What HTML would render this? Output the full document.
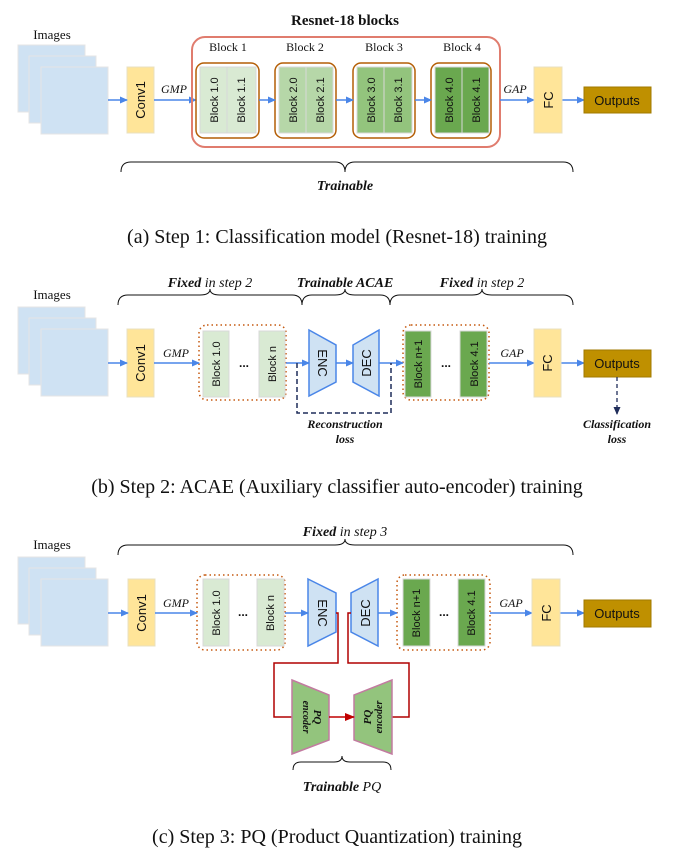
<!DOCTYPE html>
<html><head><meta charset="utf-8"><style>
html,body{margin:0;padding:0;background:#fff}
svg{display:block}
.s{font-family:"Liberation Sans",sans-serif;fill:#111}
.r{font-family:"Liberation Serif",serif;fill:#111}
</style></head><body>
<svg width="675" height="855" viewBox="0 0 675 855" xmlns="http://www.w3.org/2000/svg">
<defs>
<marker id="ab" markerWidth="8" markerHeight="8" refX="7" refY="4" orient="auto" markerUnits="userSpaceOnUse"><path d="M0,0.5 L8,4 L0,7.5z" fill="#4a86e8"/></marker>
<marker id="ar" markerWidth="10" markerHeight="10" refX="9" refY="5" orient="auto" markerUnits="userSpaceOnUse"><path d="M0,1 L10,5 L0,9z" fill="#c00000"/></marker>
<marker id="an" markerWidth="8" markerHeight="8" refX="7" refY="4" orient="auto" markerUnits="userSpaceOnUse"><path d="M0,0.5 L8,4 L0,7.5z" fill="#1f2d5a"/></marker>
</defs>

<!-- ===== Panel A ===== -->
<text x="52" y="39" class="r" font-size="13" text-anchor="middle">Images</text>
<g fill="#cfe2f3" stroke="#e4e4e4" stroke-width="1">
<rect x="18" y="45" width="67" height="67"/><rect x="29" y="56" width="67" height="67"/><rect x="41" y="67" width="67" height="67"/>
</g>
<rect x="127" y="67" width="27" height="66" fill="#ffe599" stroke="#e8e0c0"/>
<text transform="translate(145,100) rotate(-90)" class="s" font-size="13" text-anchor="middle">Conv1</text>
<line x1="108" y1="100" x2="127" y2="100" stroke="#4a86e8" stroke-width="1.5" marker-end="url(#ab)"/>
<line x1="154" y1="100" x2="196" y2="100" stroke="#4a86e8" stroke-width="1.5" marker-end="url(#ab)"/>
<text x="174" y="93" class="r" font-size="12" font-style="italic" text-anchor="middle">GMP</text>
<text x="345" y="25" class="r" font-size="15" font-weight="bold" text-anchor="middle">Resnet-18 blocks</text>
<rect x="192" y="37" width="308" height="110" rx="13" fill="none" stroke="#e07c6e" stroke-width="2"/>
<g class="r" font-size="12" text-anchor="middle">
<text x="228" y="51">Block 1</text><text x="305" y="51">Block 2</text><text x="384" y="51">Block 3</text><text x="462" y="51">Block 4</text>
</g>
<g stroke="#b45f06" stroke-width="1.5" fill="none">
<rect x="196" y="63" width="63" height="75" rx="8"/><rect x="275" y="63" width="61" height="75" rx="8"/>
<rect x="353" y="63" width="62" height="75" rx="8"/><rect x="431" y="63" width="60" height="75" rx="8"/>
</g>
<g stroke="#d8d8d8">
<rect x="200" y="67" width="27" height="66" fill="#d9ead3"/><rect x="227" y="67" width="29" height="66" fill="#d9ead3"/>
<rect x="279" y="67" width="27" height="66" fill="#b6d7a8"/><rect x="306" y="67" width="27" height="66" fill="#b6d7a8"/>
<rect x="357" y="67" width="27" height="66" fill="#93c47d"/><rect x="384" y="67" width="28" height="66" fill="#93c47d"/>
<rect x="435" y="67" width="27" height="66" fill="#6aa84f"/><rect x="462" y="67" width="27" height="66" fill="#6aa84f"/>
</g>
<g class="s" font-size="11" text-anchor="middle">
<text transform="translate(218,100) rotate(-90)">Block 1.0</text><text transform="translate(245,100) rotate(-90)">Block 1.1</text>
<text transform="translate(297,100) rotate(-90)">Block 2.0</text><text transform="translate(324,100) rotate(-90)">Block 2.1</text>
<text transform="translate(375,100) rotate(-90)">Block 3.0</text><text transform="translate(402,100) rotate(-90)">Block 3.1</text>
<text transform="translate(453,100) rotate(-90)">Block 4.0</text><text transform="translate(480,100) rotate(-90)">Block 4.1</text>
</g>
<g stroke="#4a86e8" stroke-width="1.5" marker-end="url(#ab)">
<line x1="259" y1="100" x2="275" y2="100"/><line x1="336" y1="100" x2="353" y2="100"/><line x1="415" y1="100" x2="431" y2="100"/>
<line x1="500" y1="100" x2="534" y2="100"/><line x1="562" y1="100" x2="584" y2="100"/>
</g>
<text x="515" y="93" class="r" font-size="12" font-style="italic" text-anchor="middle">GAP</text>
<rect x="534" y="67" width="28" height="66" fill="#ffe599" stroke="#e8e0c0"/>
<text transform="translate(553,100) rotate(-90)" class="s" font-size="13" text-anchor="middle">FC</text>
<rect x="584" y="87" width="67" height="26" fill="#bf9000" stroke="#a07a00"/>
<text x="617" y="105" class="s" font-size="13" text-anchor="middle">Outputs</text>
<path d="M121,172 Q121,162 131,162 L335,162 Q345,162 345,172 Q345,162 355,162 L563,162 Q573,162 573,172" fill="none" stroke="#111" stroke-width="1"/>
<text x="345" y="190" class="r" font-size="14" font-weight="bold" font-style="italic" text-anchor="middle">Trainable</text>
<text x="337" y="243" class="r" font-size="20" text-anchor="middle">(a) Step 1: Classification model (Resnet-18) training</text>

<!-- ===== Panel B ===== -->
<text x="52" y="299" class="r" font-size="13" text-anchor="middle">Images</text>
<g fill="#cfe2f3" stroke="#e4e4e4">
<rect x="18" y="307" width="67" height="67"/><rect x="29" y="318" width="67" height="67"/><rect x="41" y="329" width="67" height="67"/>
</g>
<text x="210" y="287" class="r" font-size="14" text-anchor="middle" font-style="italic"><tspan font-weight="bold">Fixed</tspan> in step 2</text>
<text x="345" y="287" class="r" font-size="14" text-anchor="middle" font-style="italic" font-weight="bold">Trainable ACAE</text>
<text x="482" y="287" class="r" font-size="14" text-anchor="middle" font-style="italic"><tspan font-weight="bold">Fixed</tspan> in step 2</text>
<g fill="none" stroke="#111">
<path d="M118,305 Q118,295 128,295 L200,295 Q210,295 210,289 Q210,295 220,295 L292,295 Q302,295 302,305"/>
<path d="M302,305 Q302,295 312,295 L335,295 Q345,295 345,289 Q345,295 355,295 L380,295 Q390,295 390,305"/>
<path d="M390,305 Q390,295 400,295 L472,295 Q482,295 482,289 Q482,295 492,295 L563,295 Q573,295 573,305"/>
</g>
<rect x="127" y="329" width="27" height="68" fill="#ffe599" stroke="#e8e0c0"/>
<text transform="translate(145,363) rotate(-90)" class="s" font-size="13" text-anchor="middle">Conv1</text>
<rect x="199" y="325" width="87" height="75" rx="8" fill="none" stroke="#c55a11" stroke-width="1.5" stroke-dasharray="1.5,3"/>
<rect x="203" y="331" width="26" height="66" fill="#d9ead3" stroke="#d8d8d8"/>
<rect x="259" y="331" width="26" height="66" fill="#d9ead3" stroke="#d8d8d8"/>
<text x="244" y="367" class="s" font-size="12" text-anchor="middle" font-weight="bold">...</text>
<g class="s" font-size="11" text-anchor="middle">
<text transform="translate(220,364) rotate(-90)">Block 1.0</text><text transform="translate(276,364) rotate(-90)">Block n</text>
</g>
<path d="M309,330 L336,345 L336,382 L309,396z" fill="#cfe2f3" stroke="#4a86e8" stroke-width="1.5"/>
<path d="M379,330 L353,345 L353,382 L379,396z" fill="#cfe2f3" stroke="#4a86e8" stroke-width="1.5"/>
<text transform="translate(318,363) rotate(90)" class="s" font-size="13" text-anchor="middle">ENC</text>
<text transform="translate(371,363) rotate(-90)" class="s" font-size="13" text-anchor="middle">DEC</text>
<rect x="403" y="325" width="86" height="75" rx="8" fill="none" stroke="#c55a11" stroke-width="1.5" stroke-dasharray="1.5,3"/>
<rect x="405" y="331" width="26" height="66" fill="#6aa84f" stroke="#d8d8d8"/>
<rect x="460" y="331" width="27" height="66" fill="#6aa84f" stroke="#d8d8d8"/>
<text x="446" y="367" class="s" font-size="12" text-anchor="middle" font-weight="bold">...</text>
<g class="s" font-size="11" text-anchor="middle">
<text transform="translate(422,364) rotate(-90)">Block n+1</text><text transform="translate(478,364) rotate(-90)">Block 4.1</text>
</g>
<g stroke="#4a86e8" stroke-width="1.5" marker-end="url(#ab)">
<line x1="108" y1="363" x2="127" y2="363"/><line x1="154" y1="363" x2="199" y2="363"/>
<line x1="286" y1="363" x2="309" y2="363"/><line x1="336" y1="363" x2="353" y2="363"/>
<line x1="379" y1="363" x2="403" y2="363"/><line x1="489" y1="363" x2="534" y2="363"/>
<line x1="561" y1="363" x2="584" y2="363"/>
</g>
<text x="176" y="357" class="r" font-size="12" font-style="italic" text-anchor="middle">GMP</text>
<text x="512" y="357" class="r" font-size="12" font-style="italic" text-anchor="middle">GAP</text>
<rect x="534" y="329" width="27" height="68" fill="#ffe599" stroke="#e8e0c0"/>
<text transform="translate(552,363) rotate(-90)" class="s" font-size="13" text-anchor="middle">FC</text>
<rect x="584" y="350" width="67" height="27" fill="#bf9000" stroke="#a07a00"/>
<text x="617" y="368" class="s" font-size="13" text-anchor="middle">Outputs</text>
<path d="M297,363 L297,413 L391,413 L391,363" fill="none" stroke="#1f2d5a" stroke-width="1.5" stroke-dasharray="5,3"/>
<line x1="617" y1="377" x2="617" y2="414" stroke="#1f2d5a" stroke-width="1.3" stroke-dasharray="4,3" marker-end="url(#an)"/>
<g class="r" font-size="12" font-weight="bold" font-style="italic" text-anchor="middle">
<text x="345" y="428">Reconstruction</text><text x="345" y="443">loss</text>
<text x="617" y="428">Classification</text><text x="617" y="443">loss</text>
</g>
<text x="337" y="493" class="r" font-size="20" text-anchor="middle">(b) Step 2: ACAE (Auxiliary classifier auto-encoder) training</text>

<!-- ===== Panel C ===== -->
<text x="52" y="549" class="r" font-size="13" text-anchor="middle">Images</text>
<g fill="#cfe2f3" stroke="#e4e4e4">
<rect x="18" y="557" width="67" height="67"/><rect x="29" y="568" width="67" height="67"/><rect x="41" y="579" width="67" height="67"/>
</g>
<text x="345" y="536" class="r" font-size="14" text-anchor="middle" font-style="italic"><tspan font-weight="bold">Fixed</tspan> in step 3</text>
<path d="M118,555 Q118,545 128,545 L335,545 Q345,545 345,539 Q345,545 355,545 L563,545 Q573,545 573,555" fill="none" stroke="#111"/>
<rect x="128" y="579" width="27" height="67" fill="#ffe599" stroke="#e8e0c0"/>
<text transform="translate(146,613) rotate(-90)" class="s" font-size="13" text-anchor="middle">Conv1</text>
<rect x="197" y="575" width="88" height="75" rx="8" fill="none" stroke="#c55a11" stroke-width="1.5" stroke-dasharray="1.5,3"/>
<rect x="203" y="579" width="26" height="67" fill="#d9ead3" stroke="#d8d8d8"/>
<rect x="257" y="579" width="27" height="67" fill="#d9ead3" stroke="#d8d8d8"/>
<text x="243" y="616" class="s" font-size="12" text-anchor="middle" font-weight="bold">...</text>
<g class="s" font-size="11" text-anchor="middle">
<text transform="translate(220,613) rotate(-90)">Block 1.0</text><text transform="translate(274,613) rotate(-90)">Block n</text>
</g>
<path d="M308,579 L336,593 L336,632 L308,646z" fill="#cfe2f3" stroke="#4a86e8" stroke-width="1.5"/>
<path d="M378,579 L351,593 L351,632 L378,646z" fill="#cfe2f3" stroke="#4a86e8" stroke-width="1.5"/>
<text transform="translate(318,613) rotate(90)" class="s" font-size="13" text-anchor="middle">ENC</text>
<text transform="translate(370,613) rotate(-90)" class="s" font-size="13" text-anchor="middle">DEC</text>
<rect x="397" y="575" width="93" height="75" rx="8" fill="none" stroke="#c55a11" stroke-width="1.5" stroke-dasharray="1.5,3"/>
<rect x="403" y="579" width="27" height="67" fill="#6aa84f" stroke="#d8d8d8"/>
<rect x="458" y="579" width="27" height="67" fill="#6aa84f" stroke="#d8d8d8"/>
<text x="444" y="616" class="s" font-size="12" text-anchor="middle" font-weight="bold">...</text>
<g class="s" font-size="11" text-anchor="middle">
<text transform="translate(420,613) rotate(-90)">Block n+1</text><text transform="translate(475,613) rotate(-90)">Block 4.1</text>
</g>
<g stroke="#4a86e8" stroke-width="1.5" marker-end="url(#ab)">
<line x1="108" y1="613" x2="128" y2="613"/><line x1="155" y1="613" x2="197" y2="613"/>
<line x1="285" y1="613" x2="308" y2="613"/><line x1="378" y1="613" x2="397" y2="613"/>
<line x1="490" y1="613" x2="532" y2="613"/><line x1="560" y1="613" x2="584" y2="613"/>
</g>
<text x="176" y="607" class="r" font-size="12" font-style="italic" text-anchor="middle">GMP</text>
<text x="511" y="607" class="r" font-size="12" font-style="italic" text-anchor="middle">GAP</text>
<rect x="532" y="579" width="28" height="67" fill="#ffe599" stroke="#e8e0c0"/>
<text transform="translate(551,613) rotate(-90)" class="s" font-size="13" text-anchor="middle">FC</text>
<rect x="584" y="600" width="67" height="27" fill="#bf9000" stroke="#a07a00"/>
<text x="617" y="618" class="s" font-size="13" text-anchor="middle">Outputs</text>
<path d="M336,613 L338,613 L338,663 L274,663 L274,717 L292,717" fill="none" stroke="#b00000" stroke-width="1.5"/>
<path d="M392,717 L409,717 L409,663 L348,663 L348,613 L351,613" fill="none" stroke="#b00000" stroke-width="1.5"/>
<path d="M292,680 L329,695 L329,740 L292,754z" fill="#93c47d" stroke="#c27ba0" stroke-width="1.5"/>
<path d="M392,680 L354,695 L354,740 L392,754z" fill="#93c47d" stroke="#c27ba0" stroke-width="1.5"/>
<line x1="329" y1="717" x2="354" y2="717" stroke="#c00000" stroke-width="1.5" marker-end="url(#ar)"/>
<g class="r" font-size="11" font-weight="bold" font-style="italic" text-anchor="middle">
<text transform="translate(312,717) rotate(90)"><tspan x="0" dy="-2">PQ</tspan><tspan x="0" dy="11" font-size="10">encoder</tspan></text>
<text transform="translate(373,717) rotate(-90)"><tspan x="0" dy="-2">PQ</tspan><tspan x="0" dy="11" font-size="10">encoder</tspan></text>
</g>
<path d="M293,770 Q293,762 301,762 L334,762 Q342,762 342,756 Q342,762 350,762 L383,762 Q391,762 391,770" fill="none" stroke="#111"/>
<text x="342" y="791" class="r" font-size="14" text-anchor="middle" font-style="italic"><tspan font-weight="bold">Trainable</tspan> PQ</text>
<text x="337" y="843" class="r" font-size="20" text-anchor="middle">(c) Step 3: PQ (Product Quantization) training</text>
</svg>
</body></html>
